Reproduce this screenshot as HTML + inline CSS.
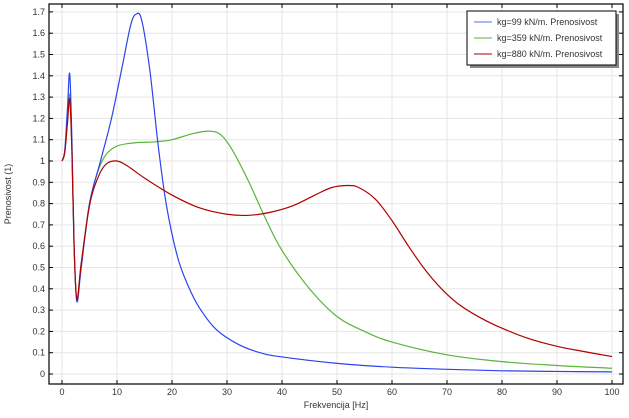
<!DOCTYPE html>
<html><head><meta charset="utf-8"><style>
body{margin:0;background:#fff;width:629px;height:413px;overflow:hidden}
svg text{font-family:"Liberation Sans","DejaVu Sans",sans-serif;font-size:9px;fill:#333}
</style></head><body>
<svg id="s" width="629" height="413" xmlns="http://www.w3.org/2000/svg">
<rect x="0" y="0" width="629" height="413" fill="#fff"/>
<g id="grid"></g>
<rect x="49" y="4" width="574" height="380" fill="none" stroke="#000" stroke-width="1.2"/>
<g id="ticks"></g>
<g id="curves" fill="none" stroke-width="1.2"></g>
<text x="336" y="408" text-anchor="middle">Frekvencija [Hz]</text>
<text transform="translate(11,194) rotate(-90)" text-anchor="middle">Prenosivost (1)</text>
<rect x="470" y="14" width="149" height="54" fill="#888"/>
<rect x="467" y="11" width="149" height="54" fill="#fff" stroke="#000" stroke-width="1"/>
<line x1="474" y1="22" x2="492" y2="22" stroke="#5a6ee8"/>
<text x="497" y="25">kg=99 kN/m. Prenosivost</text>
<line x1="474" y1="38" x2="492" y2="38" stroke="#5bb33c"/>
<text x="497" y="41">kg=359 kN/m. Prenosivost</text>
<line x1="474" y1="54" x2="492" y2="54" stroke="#a00"/>
<text x="497" y="57">kg=880 kN/m. Prenosivost</text>
</svg>
<script>
const X=v=>62+v*5.5, Y=v=>374-v*213;
const g=document.getElementById('grid'),t=document.getElementById('ticks'),c=document.getElementById('curves');
let h='',tk='';
for(let i=0;i<=10;i++){const x=X(i*10);h+=`<line x1="${x}" y1="4" x2="${x}" y2="384" stroke="#e6e6e6"/>`;
tk+=`<line x1="${x}" y1="4" x2="${x}" y2="8" stroke="#000"/><line x1="${x}" y1="384" x2="${x}" y2="380" stroke="#000"/><text x="${x}" y="395" text-anchor="middle">${i*10}</text>`;}
for(let i=0;i<=17;i++){const y=Y(i/10);h+=`<line x1="49" y1="${y}" x2="623" y2="${y}" stroke="#e6e6e6"/>`;
let l=i==0?'0':i%10==0?'1':(i/10).toString();
tk+=`<line x1="49" y1="${y}" x2="53" y2="${y}" stroke="#000"/><line x1="623" y1="${y}" x2="619" y2="${y}" stroke="#000"/><text x="45" y="${y+3}" text-anchor="end">${l}</text>`;}
g.innerHTML=h;t.innerHTML=tk;
function path(p){let pts=p.map(a=>[X(a[0]),Y(a[1])]);let d=`M${pts[0]}`;
for(let i=0;i<pts.length-1;i++){const p0=pts[Math.max(0,i-1)],p1=pts[i],p2=pts[i+1],p3=pts[Math.min(pts.length-1,i+2)];
const c1=[p1[0]+(p2[0]-p0[0])/6,p1[1]+(p2[1]-p0[1])/6],c2=[p2[0]-(p3[0]-p1[0])/6,p2[1]-(p3[1]-p1[1])/6];
d+=`C${c1} ${c2} ${p2}`;}return d;}
const blue=[[0,1],[0.5,1.05],[1,1.25],[1.4,1.41],[1.8,1.1],[2.2,0.6],[2.7,0.34],[3.5,0.5],[5,0.8],[7,1.0],[9,1.2],[11,1.45],[12.5,1.64],[13.5,1.69],[14.5,1.66],[16,1.42],[17.5,1.07],[19,0.79],[21,0.55],[23,0.41],[25,0.31],[28,0.21],[32,0.14],[36,0.1],[40,0.08],[50,0.05],[60,0.032],[70,0.022],[80,0.015],[90,0.012],[100,0.01]];
const green=[[0,1],[0.5,1.04],[1,1.2],[1.4,1.31],[1.8,1.05],[2.2,0.6],[2.7,0.35],[3.5,0.52],[5,0.8],[6.5,0.95],[8,1.03],[10,1.07],[13,1.085],[17,1.09],[20,1.1],[24,1.13],[27,1.14],[29,1.12],[31,1.05],[34,0.9],[37,0.73],[40,0.58],[45,0.4],[50,0.27],[55,0.2],[60,0.15],[70,0.09],[80,0.058],[90,0.04],[100,0.027]];
const red=[[0,1],[0.5,1.04],[1,1.18],[1.4,1.29],[1.8,1.05],[2.2,0.6],[2.7,0.35],[3.5,0.52],[5,0.79],[6.5,0.92],[8,0.985],[10,1.0],[12,0.975],[15,0.92],[20,0.84],[25,0.78],[30,0.75],[34,0.745],[38,0.76],[42,0.79],[46,0.84],[49,0.875],[52,0.885],[54,0.875],[57,0.82],[60,0.72],[63,0.6],[66,0.49],[69,0.4],[72,0.33],[76,0.265],[80,0.215],[85,0.165],[90,0.13],[95,0.105],[100,0.082]];
c.innerHTML=`<path d="${path(green)}" stroke="#5bb33c"/><path d="${path(blue)}" stroke="#2b44ee"/><path d="${path(red)}" stroke="#b00000"/>`;
</script>
</body></html>
